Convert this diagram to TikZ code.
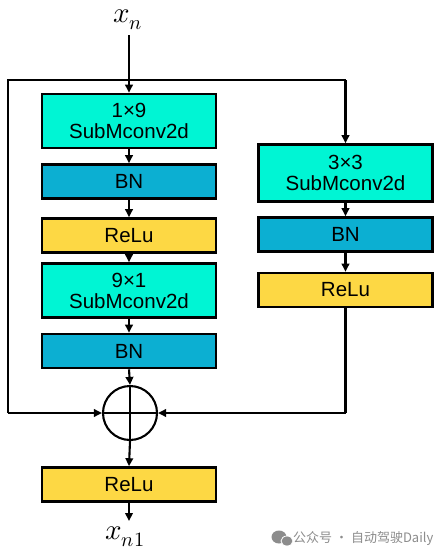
\documentclass[tikz,border=0pt]{standalone}
\usepackage{fontspec}
\usepackage{unicode-math}
\setmathfont{Latin Modern Math}
\setmainfont{Liberation Sans}
\newfontfamily\cjk{Noto Sans CJK SC}
\usetikzlibrary{arrows.meta}
\definecolor{convc}{RGB}{0,245,212}
\definecolor{bnc}{RGB}{12,175,210}
\definecolor{reluc}{RGB}{253,216,68}
\definecolor{wmc}{RGB}{140,140,140}
\begin{document}
\begin{tikzpicture}[x=1pt,y=-1pt,
  blk/.style={draw=black,line width=2.6pt,minimum width=174pt,inner sep=0pt,align=center,
    font=\fontsize{20.5}{23}\selectfont},
  conv/.style={blk,fill=convc,minimum height=54pt},
  bn/.style={blk,fill=bnc,minimum height=34pt},
  relu/.style={blk,fill=reluc,minimum height=34pt},
  arr/.style={line width=2.1pt,-{Triangle[length=8pt,width=7.5pt]}},
  ln/.style={line width=2.1pt},
  lbl/.style={inner sep=0pt,font=\fontsize{29}{32}\selectfont}]
\useasboundingbox (0,0) rectangle (443,558);
% left column
\node[conv] (c1) at (129,121) {1×9\\[-2pt]SubMconv2d};
\node[bn] (b1) at (129,181.5) {BN};
\node[relu] (r1) at (129,235.5) {ReLu};
\node[conv] (c2) at (129,290.5) {9×1\\[-2pt]SubMconv2d};
\node[bn] (b2) at (129,351) {BN};
% right column
\node[conv,minimum height=57pt] (c3) at (345.5,173) {3×3\\[-2pt]SubMconv2d};
\node[bn] (b3) at (345.5,234.5) {BN};
\node[relu] (r3) at (345.5,290) {ReLu};
% sum
\node[draw,circle,line width=2.1pt,minimum size=54pt,inner sep=0pt] (s) at (130,413) {};
\draw[ln] (s.north) -- (s.south);
\draw[ln] (s.west) -- (s.east);
% bottom relu
\node[relu] (r4) at (129,484.5) {ReLu};
% labels
\node[lbl] (xin) at (128,20) {$x_n$};
\node[lbl] (xout) at (125,537) {$x_{n1}$};
\coordinate (top) at (129,80);
\coordinate (tl) at (8,80);
\coordinate (tr) at (345.5,80);
\coordinate (bl) at (8,413);
\coordinate (br) at (345.5,413);
\coordinate (xinb) at (129,35);
\coordinate (xoute) at (129,521);
% connectors
\draw[ln] (xinb) -- (top);
\draw[arr] (top) -- (c1.north);
\draw[arr] (c1) -- (b1);
\draw[arr] (b1) -- (r1);
\draw[arr] (r1) -- (c2);
\draw[arr] (c2) -- (b2);
\draw[arr] (b2.south) -- (s.north);
\draw[ln] (bl) -- (tl) -- (tr);
\draw[arr] (tr) -- (c3.north);
\draw[arr] (c3) -- (b3);
\draw[arr] (b3) -- (r3);
\draw[arr] (bl) -- (s.west);
\draw[ln] (r3.south) -- (br);
\draw[arr] (br) -- (s.east);
\draw[arr] (s.south) -- (r4.north);
\draw[arr] (r4.south) -- (xoute);
% watermark
\fill[wmc] (279,537) ellipse (7.5pt and 6.5pt);
\fill[wmc] (287,541) ellipse (6pt and 5pt);
\draw[white,line width=0.8pt] (287,541) ellipse (6pt and 5pt);
\node[anchor=west,text=wmc,inner sep=0pt] (wm) at (293,539) {\cjk\fontsize{13}{15}\selectfont 公众号 · 自动驾驶Daily};
\end{tikzpicture}
\end{document}
